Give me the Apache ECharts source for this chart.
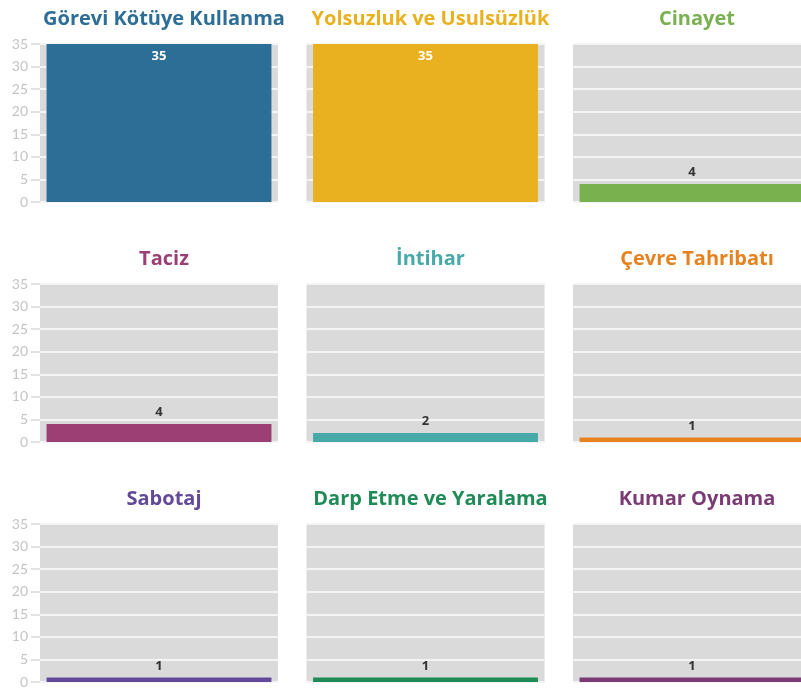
<!DOCTYPE html>
<html>
<head>
<meta charset="utf-8">
<script src="https://cdn.jsdelivr.net/npm/echarts@6/dist/echarts.min.js"></script>
<style>
  html, body { margin: 0; padding: 0; background: #fff; }
  #main { width: 801px; height: 690px; }
</style>
</head>
<body>
<div id="main"></div>
<script>
// panel titles (categories) and counts
const categories = [
  'Görevi Kötüye Kullanma', 'Yolsuzluk ve Usulsüzlük', 'Cinayet',
  'Taciz', 'İntihar', 'Çevre Tahribatı',
  'Sabotaj', 'Darp Etme ve Yaralama', 'Kumar Oynama'
]
const values = [35, 35, 4, 4, 2, 1, 1, 1, 1]
const yTicks = [0, 5, 10, 15, 20, 25, 30, 35]

const colors = [
  '#2d6e97', '#e9b11f', '#79b14f',
  '#9c3f74', '#47aaa8', '#e8821f',
  '#62499a', '#1f8b56', '#7b3b74'
]

const chart = echarts.init(document.getElementById('main'))

const titles = [], grids = [], xAxes = [], yAxes = [], series = []
categories.forEach((name, i) => {
  const col = i % 3, row = Math.floor(i / 3)
  const left = 40 + col * 266.5
  const top = 44 + row * 240
  titles.push({
    text: name,
    left: left + 119,
    top: top - 40,
    textAlign: 'center',
    textStyle: { color: colors[i], fontSize: 20, fontWeight: 'bold', fontFamily: 'Open Sans' }
  })
  grids.push({
    left: left, top: top, width: 238, height: 158,
    outerBoundsMode: 'none',
    show: true, backgroundColor: '#dadada', borderWidth: 0
  })
  xAxes.push({
    gridIndex: i, type: 'category', data: [name],
    axisLine: { show: false }, axisTick: { show: false }, axisLabel: { show: false }
  })
  yAxes.push({
    gridIndex: i, type: 'value', min: yTicks[0], max: yTicks[yTicks.length - 1], interval: 5,
    axisLine: { show: false },
    axisTick: { show: col === 0, length: 9, lineStyle: { color: '#e2e2e2', width: 2 } },
    axisLabel: { show: col === 0, color: '#c4c4c4', fontSize: 14, fontFamily: 'Lato', margin: 12 },
    splitLine: { lineStyle: { color: '#f4f4f4', width: 2 } }
  })
  const inside = values[i] >= 30
  series.push({
    type: 'bar', xAxisIndex: i, yAxisIndex: i,
    data: [values[i]],
    barWidth: '94.5%',
    itemStyle: { color: colors[i] },
    label: {
      show: true,
      position: inside ? 'insideTop' : 'top',
      distance: inside ? 6 : 5,
      color: inside ? '#fff' : '#333',
      fontWeight: 'bold', fontSize: 13, fontFamily: 'Open Sans'
    }
  })
})

chart.setOption({
  animation: false,
  title: titles,
  grid: grids,
  xAxis: xAxes,
  yAxis: yAxes,
  series: series
})
</script>
</body>
</html>
